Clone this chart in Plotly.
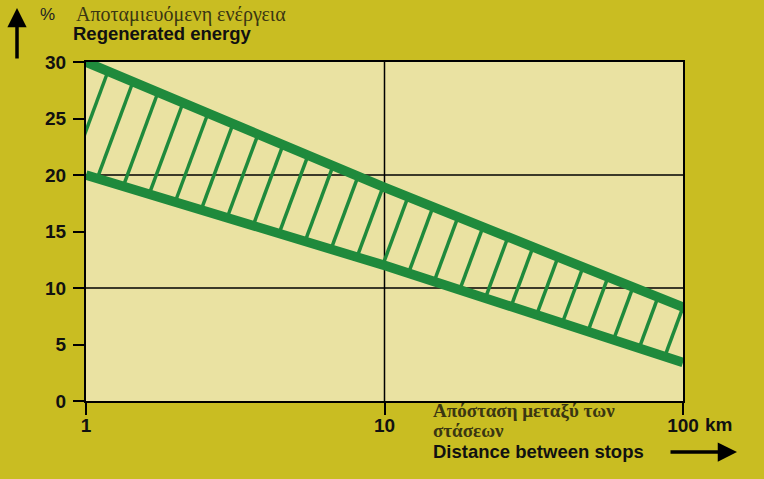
import numpy as np
import plotly.graph_objects as go

# distance between stops (km) and regenerated energy (%)
distance = [1, 10, 100]
upper_energy = [30, 18.9, 8.3]
lower_energy = [20, 12.0, 3.4]

y_ticks = [0, 5, 10, 15, 20, 25, 30]
x_ticks = [1, 10, 100]
x_tick_text = ["1", "10", "100"]

green = "#1f8a3c"
paper_col = "#c9bd22"
plot_col = "#eae2a2"

W, H = 764, 479
L, R, T, B = 86, 81, 62, 78
pw = W - L - R
ph = H - T - B


def px(x):
    return (x - L) / pw


def py(y):
    return (H - B - y) / ph


fig = go.Figure()

# hatching between the two lines
logx = np.log10(distance)


def up(u):
    return np.interp(u, logx, upper_energy)


def lo(u):
    return np.interp(u, logx, lower_energy)


dec_px = pw / 2.0
unit_px = ph / 30.0
step = 25 / dec_px
first = 22 / dec_px
for k in range(24):
    ut = first + k * step
    ub = ut
    for _ in range(20):
        ub = ut - 0.37 * (up(ut) - lo(ub)) * unit_px / dec_px
    fig.add_trace(go.Scatter(
        x=[10 ** ub, 10 ** ut], y=[lo(ub), up(ut)], mode="lines",
        line=dict(color=green, width=3.5), hoverinfo="skip", showlegend=False))

# gridlines
for g in [10, 20]:
    fig.add_shape(type="line", xref="x", yref="y", x0=1, x1=100, y0=g, y1=g,
                  line=dict(color="black", width=1.5), layer="below")
fig.add_shape(type="line", xref="x", yref="y", x0=10, x1=10, y0=0, y1=30,
              line=dict(color="black", width=1.5), layer="below")

fig.add_trace(go.Scatter(x=distance, y=upper_energy, mode="lines",
                         line=dict(color=green, width=9.5), showlegend=False))
fig.add_trace(go.Scatter(x=distance, y=lower_energy, mode="lines",
                         line=dict(color=green, width=9.5), showlegend=False))

tick_font = dict(family="Liberation Sans", size=19, color="#111", weight="bold")
fig.update_xaxes(type="log", range=[0, 2], tickvals=x_ticks, ticktext=x_tick_text,
                 showgrid=False, zeroline=False, showline=True, mirror=True,
                 linecolor="black", linewidth=2, ticks="outside", ticklen=12,
                 tickcolor="black", tickwidth=1.5, tickfont=tick_font,
                 ticklabelstandoff=-6)
fig.update_yaxes(range=[0, 30], tickvals=y_ticks, showgrid=False, zeroline=False,
                 showline=True, mirror=True, linecolor="black", linewidth=2,
                 ticks="outside", ticklen=11, tickcolor="black", tickwidth=1.5,
                 tickfont=tick_font, ticklabelstandoff=3)

serif = dict(family="Liberation Serif", size=20, color="#3a3612")
serif_b = dict(family="Liberation Serif", size=19, color="#3a3612", weight="bold")
bold = dict(family="Liberation Sans", size=18.5, color="#111", weight="bold")
ann = [
    dict(x=px(38), y=py(15), text="%", font=dict(family="Liberation Sans", size=17, color="#222"),
         xanchor="left"),
    dict(x=px(74), y=py(15), text="Αποταμιευόμενη ενέργεια", font=serif, xanchor="left"),
    dict(x=px(71), y=py(33), text="Regenerated energy", font=bold, xanchor="left"),
    dict(x=px(431), y=py(411), text="Απόσταση μεταξύ των", font=serif_b, xanchor="left"),
    dict(x=px(431), y=py(431), text="στάσεων", font=serif_b, xanchor="left"),
    dict(x=px(431), y=py(451), text="Distance between stops", font=bold, xanchor="left"),
    dict(x=px(703), y=py(424), text="km", font=tick_font, xanchor="left"),
]
annotations = [dict(a, xref="paper", yref="paper", showarrow=False, yanchor="middle") for a in ann]
annotations.append(dict(xref="paper", yref="paper", x=px(17), y=py(8), ax=0, ay=52,
                        text="", showarrow=True, arrowhead=2, arrowsize=1.1,
                        arrowwidth=3.5, arrowcolor="black"))
annotations.append(dict(xref="paper", yref="paper", x=px(737), y=py(452), ax=-68, ay=0,
                        text="", showarrow=True, arrowhead=2, arrowsize=1.1,
                        arrowwidth=3.5, arrowcolor="black"))

fig.update_layout(width=W, height=H, margin=dict(l=L, r=R, t=T, b=B),
                  paper_bgcolor=paper_col, plot_bgcolor=plot_col,
                  annotations=annotations, showlegend=False)

fig.write_html("out.html", config={"displayModeBar": False},
               post_script="document.body.style.margin='0';")
